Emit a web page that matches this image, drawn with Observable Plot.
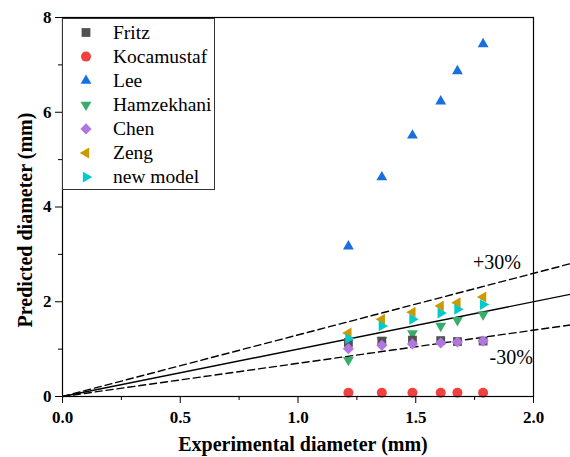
<!DOCTYPE html>
<html>
<head>
<meta charset="utf-8">
<script src="https://cdn.jsdelivr.net/npm/d3@7"></script>
<script src="https://cdn.jsdelivr.net/npm/@observablehq/plot@0.6"></script>
<style>
  html, body { margin: 0; padding: 0; background: #fff; }
  #chart svg { display: block; }
  #chart svg text { font-family: 'Liberation Serif', 'Times New Roman', serif; }
  #chart svg [aria-label$="tick label"] text { font-weight: bold; }
</style>
</head>
<body>
<div id="chart"></div>
<script>
// Experimental bubble diameters (mm) and the diameters predicted by each model
const experimental = [1.214, 1.356, 1.486, 1.606, 1.677, 1.786];
const fritz       = [1.14, 1.17, 1.19, 1.18, 1.16, 1.17];
const kocamustaf  = [0.08, 0.08, 0.08, 0.08, 0.08, 0.08];
const lee         = [3.17, 4.63, 5.51, 6.23, 6.87, 7.44];
const hamzekhani  = [0.77, 1.19, 1.33, 1.49, 1.61, 1.73];
const chen        = [1.01, 1.08, 1.11, 1.13, 1.15, 1.17];
const zeng        = [1.34, 1.63, 1.78, 1.91, 1.98, 2.10];
const newModel    = [1.22, 1.49, 1.63, 1.76, 1.84, 1.94];

const modelNames  = ["Fritz", "Kocamustaf", "Lee", "Hamzekhani", "Chen", "Zeng", "new model"];
const modelValues = [fritz, kocamustaf, lee, hamzekhani, chen, zeng, newModel];
const modelColors = ["#515151", "#F14040", "#1A6FDF", "#37AD6B", "#B177DE", "#CC9900", "#00CBCC"];

// Parity line y = x and the ±30% error band, drawn over this x span
const ratioSlopes = [1, 1.3, 0.7];
const ratioSpan   = [0, 2.16];
const bandLabels  = ["+30%", "-30%"];
const bandLabelX  = [1.845, 1.905];
const bandLabelY  = [2.83, 0.82];

const xTicks = [0, 0.5, 1, 1.5, 2];
const xMinor = [0.25, 0.75, 1.25, 1.75];
const yTicks = [0, 2, 4, 6, 8];
const yMinor = [1, 3, 5, 7];

// Marker shapes (size is the symbol area, πr²)
function triangle(angleDeg) {
  return {
    draw(ctx, size) {
      const R = Math.sqrt(size / Math.PI) * 1.25;
      for (let k = 0; k < 3; k++) {
        const a = (angleDeg + k * 120) * Math.PI / 180;
        const px = R * Math.cos(a), py = -R * Math.sin(a);
        k === 0 ? ctx.moveTo(px, py) : ctx.lineTo(px, py);
      }
      ctx.closePath();
    }
  };
}
const square = {
  draw(ctx, size) {
    const h = Math.sqrt(size / Math.PI) * 0.88;
    ctx.moveTo(-h, -h); ctx.lineTo(h, -h); ctx.lineTo(h, h); ctx.lineTo(-h, h); ctx.closePath();
  }
};
const circle = {
  draw(ctx, size) {
    const r = Math.sqrt(size / Math.PI);
    ctx.moveTo(r, 0); ctx.arc(0, 0, r, 0, 2 * Math.PI);
  }
};
const diamond = {
  draw(ctx, size) {
    const h = Math.sqrt(size / Math.PI) * 1.12;
    ctx.moveTo(0, -h); ctx.lineTo(h, 0); ctx.lineTo(0, h); ctx.lineTo(-h, 0); ctx.closePath();
  }
};
const modelShapes = [square, circle, triangle(90), triangle(-90), diamond, triangle(180), triangle(0)];

// Tidy rows
const series = modelNames.map((name, i) => ({
  name, color: modelColors[i], shape: modelShapes[i],
  rows: experimental.map((x, j) => ({model: name, x, y: modelValues[i][j]}))
}));
const ratioRows = ratioSlopes.flatMap(s => ratioSpan.map(x => ({slope: s, x, y: s * x})));
const labelRows = bandLabels.map((t, i) => ({t, x: bandLabelX[i], y: bandLabelY[i]}));

// Drawing order keeps the diamonds and right triangles on top
const drawOrder = ["Hamzekhani", "Fritz", "Kocamustaf", "Lee", "Chen", "Zeng", "new model"];
const dotMarks = drawOrder.map(n => {
  const s = series.find(d => d.name === n);
  return Plot.dot(s.rows, {x: "x", y: "y", r: 5, symbol: s.shape, fill: s.color});
});

const font = "'Liberation Serif', 'Times New Roman', serif";

const chart = Plot.plot({
  width: 570,
  height: 457,
  marginLeft: 62,
  marginRight: 37,
  marginTop: 17,
  marginBottom: 61,
  style: {background: "#fff", fontFamily: font, color: "#000"},
  x: {domain: [0, 2]},
  y: {domain: [0, 8]},
  marks: [
    Plot.axisX({ticks: xTicks, tickSize: 7, tickPadding: 7, tickFormat: d3.format(".1f"),
      fontSize: 17, fontWeight: "bold", fontFamily: font, label: null, stroke: "#000"}),
    Plot.axisX({ticks: xMinor, tickSize: 4, tickFormat: () => "", label: null, stroke: "#000"}),
    Plot.axisY({ticks: yTicks, tickSize: 7, tickPadding: 4, tickFormat: d3.format("d"),
      fontSize: 17, fontWeight: "bold", fontFamily: font, label: null, stroke: "#000"}),
    Plot.axisY({ticks: yMinor, tickSize: 4, tickFormat: () => "", label: null, stroke: "#000"}),
    Plot.line(ratioRows.filter(d => d.slope === 1), {x: "x", y: "y", stroke: "#000", strokeWidth: 1.4}),
    Plot.line(ratioRows.filter(d => d.slope !== 1), {x: "x", y: "y", z: "slope", stroke: "#000",
      strokeWidth: 1.4, strokeDasharray: "7,4"}),
    ...dotMarks,
    Plot.text(labelRows, {x: "x", y: "y", text: "t", fontSize: 20, fontFamily: font, fill: "#000"}),
    Plot.frame({stroke: "#000", strokeWidth: 1.2}),
    Plot.text(["Experimental diameter (mm)"], {text: d => d, frameAnchor: "bottom", textAnchor: "middle",
      lineAnchor: "middle", dx: 5, dy: 48, fontSize: 20, fontWeight: "bold", fontFamily: font, fill: "#000"}),
    Plot.text(["Predicted diameter (mm)"], {text: d => d, frameAnchor: "left", textAnchor: "middle",
      lineAnchor: "middle", rotate: -90, dx: -37, dy: 13, fontSize: 20, fontWeight: "bold", fontFamily: font, fill: "#000"})
  ]
});

// In-plot legend box, top-left corner of the frame
const svg = d3.select(chart);
const legend = svg.append("g")
  .attr("font-family", font).attr("font-size", 19.5).attr("text-anchor", "start");
legend.append("rect")
  .attr("x", 62.5).attr("y", 18.5).attr("width", 152).attr("height", 171)
  .attr("fill", "#fff").attr("stroke", "#333").attr("stroke-width", 1);
series.forEach((s, i) => {
  const cy = 32.5 + i * 24.1;
  legend.append("path")
    .attr("transform", `translate(86,${cy})`)
    .attr("d", d3.symbol(s.shape, 25 * Math.PI)())
    .attr("fill", s.color);
  legend.append("text")
    .attr("x", 113).attr("y", cy).attr("dy", "0.32em")
    .attr("text-anchor", "start")
    .attr("fill", "#000")
    .text(s.name);
});

document.getElementById("chart").appendChild(chart);
</script>
</body>
</html>
